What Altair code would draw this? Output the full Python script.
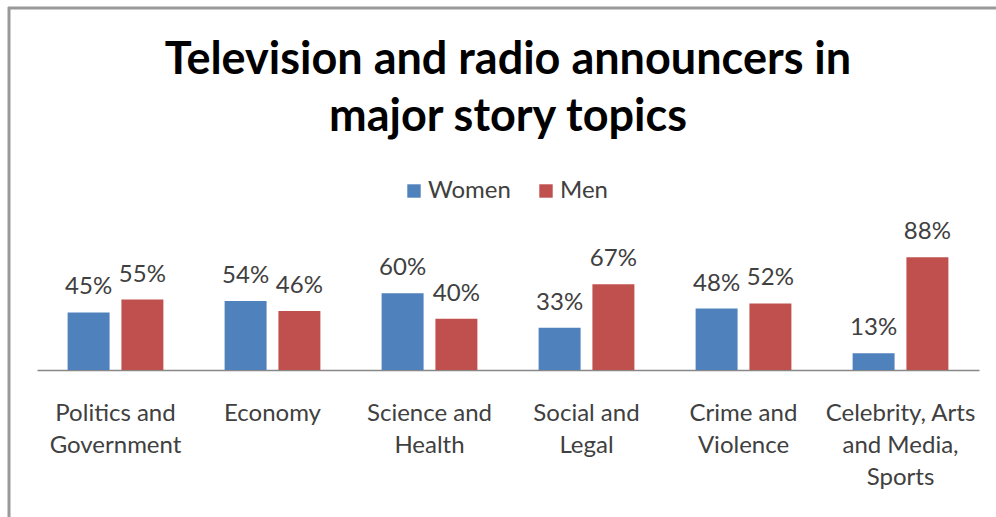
import altair as alt
import pandas as pd

categories = ["Politics and|Government", "Economy", "Science and|Health",
              "Social and|Legal", "Crime and|Violence", "Celebrity, Arts|and Media,|Sports"]
series = ["Women", "Men"]
women = [45, 54, 60, 33, 48, 13]
men = [55, 46, 40, 67, 52, 88]
colors = ["#4F81BD", "#C0504D"]

rows = []
for i, c in enumerate(categories):
    rows.append({"topic": c, "gender": "Women", "value": women[i]})
    rows.append({"topic": c, "gender": "Men", "value": men[i]})
df = pd.DataFrame(rows)
df["label"] = df["value"].astype(str) + "%"

FONT = "Lato"
TXT = "#404040"

x = alt.X("topic:N", sort=categories, title=None,
          scale=alt.Scale(paddingInner=0.39, paddingOuter=0.195),
          axis=alt.Axis(labelExpr="split(datum.label, '|')", labelAngle=0,
                        labelFont=FONT, labelFontSize=24, labelColor=TXT,
                        labelLineHeight=32, labelPadding=31, ticks=False,
                        domainColor="#888888", domainWidth=1.5, grid=False,
                        labelBaseline="top"))
xo = alt.XOffset("gender:N", sort=series, scale=alt.Scale(paddingInner=0.22))
y = alt.Y("value:Q", scale=alt.Scale(domain=[0, 100]), axis=None)

base = alt.Chart(df)
bars = base.mark_bar().encode(
    x=x, xOffset=xo, y=y,
    color=alt.Color("gender:N", sort=series,
                    scale=alt.Scale(domain=series, range=colors),
                    legend=alt.Legend(title=None, orient="none", direction="horizontal",
                                      legendX=365, legendY=-63, symbolType="square",
                                      symbolSize=180, symbolStrokeWidth=0,
                                      labelFont=FONT, labelFontSize=24, labelColor=TXT,
                                      columnPadding=23, labelOffset=2, padding=0)),
)
labels = base.mark_text(font=FONT, fontSize=24, color=TXT, baseline="alphabetic", dy=-18).encode(
    x=x, xOffset=xo, y=y, text="label:N"
)

one = pd.DataFrame({"a": [0]})
top_border = alt.Chart(one).mark_rule(color="#999999", strokeWidth=3).encode(
    x=alt.value(-29), x2=alt.value(960), y=alt.value(-234))
left_border = alt.Chart(one).mark_rule(color="#999999", strokeWidth=3).encode(
    x=alt.value(-28), y=alt.value(-235), y2=alt.value(275))

chart = alt.layer(top_border, left_border, bars, labels).properties(
    width=942, height=128,
    padding={"left": 37, "top": 242, "right": 17, "bottom": 147},
    autosize=alt.AutoSizeParams(type="none"),
    title=alt.TitleParams(text=["Television and radio announcers in", "major story topics"],
                          font=FONT, fontSize=45, fontWeight="bold", color="#000000",
                          lineHeight=57, anchor="middle", offset=0, dy=134),
).configure_view(stroke=None)

chart.save("out.html", embed_options={"renderer": "svg", "actions": False})
